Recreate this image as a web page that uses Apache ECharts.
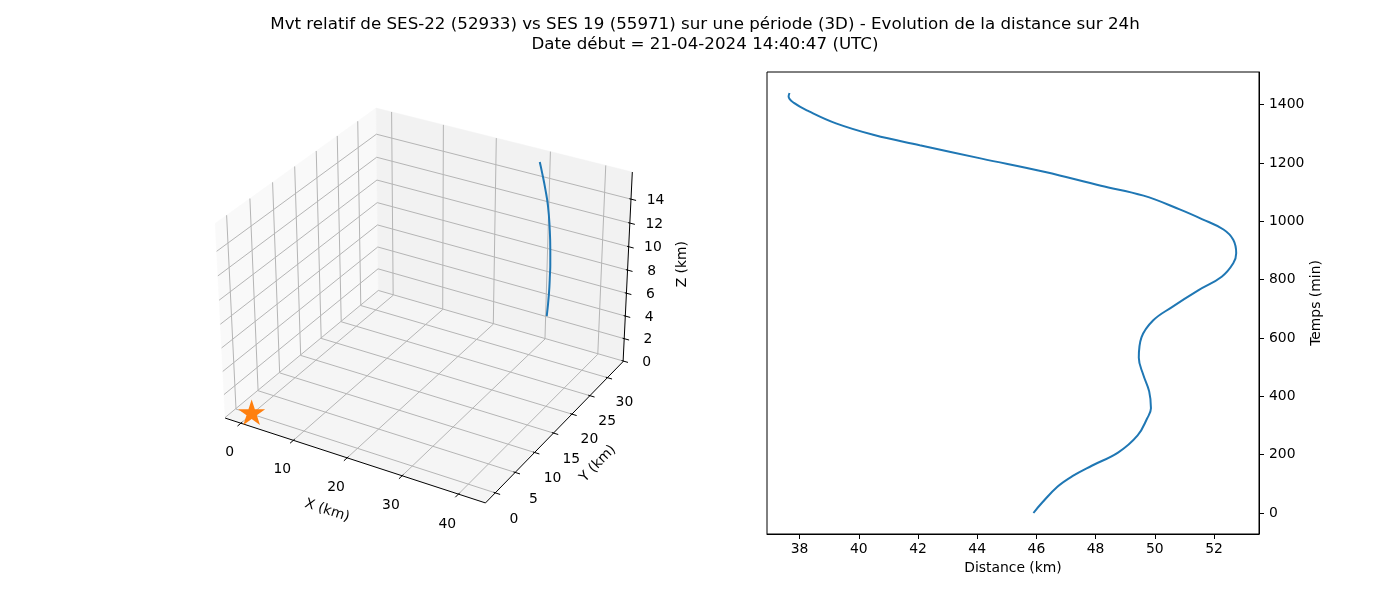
<!DOCTYPE html>
<html><head><meta charset="utf-8">
<script src="https://cdn.jsdelivr.net/npm/echarts@6/dist/echarts.min.js"></script>
<style>html,body{margin:0;padding:0;background:#fff}#c{width:1400px;height:600px}</style>
</head><body><div id="c"></div>
<script>
// ---------- texts ----------
const titleLines = [
  'Mvt relatif de SES-22 (52933) vs SES 19 (55971) sur une période (3D) - Evolution de la distance sur 24h',
  'Date début = 21-04-2024 14:40:47 (UTC)'
];

// ---------- right panel: distance vs time ----------
const tempsMin = [0, 35, 90, 127, 162, 208, 266, 324, 359, 417, 474, 532, 602, 660, 706, 764, 810, 856, 891, 937, 972, 1007, 1041, 1088, 1122, 1169, 1215, 1261, 1296, 1336, 1377, 1406, 1428, 1440];
const distanceKm = [45.90, 46.19, 46.71, 47.23, 47.87, 48.77, 49.42, 49.74, 49.87, 49.81, 49.61, 49.46, 49.55, 49.94, 50.58, 51.48, 52.26, 52.65, 52.75, 52.65, 52.32, 51.61, 50.84, 49.62, 48.18, 46.30, 44.15, 42.06, 40.52, 39.23, 38.32, 37.81, 37.63, 37.66];
const distTicks = [38, 40, 42, 44, 46, 48, 50, 52];
const tempsTicks = [0, 200, 400, 600, 800, 1000, 1200, 1400];

// ---------- left panel: 3D relative motion ----------
const trajX = [31.88, 32.17, 32.25, 32.26, 32.18, 31.92, 31.52, 30.97, 30.30, 29.81];
const trajY = [32.0, 32.0, 32.0, 32.0, 32.0, 32.0, 32.0, 32.0, 32.0, 32.0];
const trajZ = [3.04, 5.10, 6.85, 7.57, 8.86, 10.85, 12.54, 13.85, 15.15, 16.01];
const starXYZ = [0, 0, 0];
const xTicks3d = [0, 10, 20, 30, 40];
const yTicks3d = [0, 5, 10, 15, 20, 25, 30];
const zTicks3d = [0, 2, 4, 6, 8, 10, 12, 14];
const xLim3d = [-3.04, 44.72];
const yLim3d = [-2.41, 34.58];
const zLim3d = [-0.05, 16.24];

// ---------- perspective projection (matplotlib-like view: elev 30, azim -60) ----------
const elev = 30 * Math.PI / 180, azim = -60 * Math.PI / 180, camDist = 10;
const asp = [1.25497, 1.25497, 0.94123];   // fitted box aspect
const pv = [Math.cos(elev) * Math.cos(azim), Math.cos(elev) * Math.sin(azim), Math.sin(elev)];
const eye = asp.map((a, i) => a / 2 + camDist * pv[i]);
const cross = (a, b) => [a[1]*b[2]-a[2]*b[1], a[2]*b[0]-a[0]*b[2], a[0]*b[1]-a[1]*b[0]];
const dot = (a, b) => a[0]*b[0] + a[1]*b[1] + a[2]*b[2];
const norm = a => { const l = Math.hypot(a[0], a[1], a[2]); return a.map(v => v / l); };
const Wv = norm(pv);
const Uv = norm(cross([0, 0, 1], Wv));
const Vv = cross(Wv, Uv);
function proj(x, y, z) {
  const b = [
    (x - xLim3d[0]) / (xLim3d[1] - xLim3d[0]) * asp[0],
    (y - yLim3d[0]) / (yLim3d[1] - yLim3d[0]) * asp[1],
    (z - zLim3d[0]) / (zLim3d[1] - zLim3d[0]) * asp[2]
  ];
  const d = [b[0] - eye[0], b[1] - eye[1], b[2] - eye[2]];
  const w = -dot(Wv, d);
  return [dot(Uv, d) / w, dot(Vv, d) / w];
}
// projected plane spans the whole canvas (hidden cartesian)
const CW = 1400, CH = 600;
const CX = 428, CY = 295.5, SX = 2375, SY = 2355;
const pxMin = (0 - CX) / SX, pxMax = (CW - CX) / SX;
const pyMin = (CY - CH) / SY, pyMax = (CY - 0) / SY;

const FONT = 'DejaVu Sans';
const FS = 13.9;

function renderBox(params, api) {
  const P = (x, y, z) => api.coord(proj(x, y, z));
  const ch = [];
  const [x0, x1] = xLim3d, [y0, y1] = yLim3d, [z0, z1] = zLim3d;
  const poly = (pts, fill) => ch.push({type: 'polygon', shape: {points: pts}, style: {fill: fill, stroke: fill, lineWidth: 0.5}});
  const seg = (a, b, stroke, lw) => ch.push({type: 'line', shape: {x1: a[0], y1: a[1], x2: b[0], y2: b[1]}, style: {stroke: stroke, lineWidth: lw}});
  const txt = (p, s, rot) => ch.push({type: 'text', x: p[0], y: p[1], rotation: rot || 0,
    style: {text: s, align: 'center', verticalAlign: 'middle', fontSize: FS, fontFamily: FONT, fill: '#000'}});
  // panes
  poly([P(x0,y0,z0), P(x0,y1,z0), P(x0,y1,z1), P(x0,y0,z1)], '#f9f9f9');
  poly([P(x0,y1,z0), P(x1,y1,z0), P(x1,y1,z1), P(x0,y1,z1)], '#f2f2f2');
  poly([P(x0,y0,z0), P(x1,y0,z0), P(x1,y1,z0), P(x0,y1,z0)], '#f5f5f5');
  const GC = '#b5b5b5', GW = 1;
  xTicks3d.forEach(v => { seg(P(v,y0,z0), P(v,y1,z0), GC, GW); seg(P(v,y1,z0), P(v,y1,z1), GC, GW); });
  yTicks3d.forEach(v => { seg(P(x0,v,z0), P(x1,v,z0), GC, GW); seg(P(x0,v,z0), P(x0,v,z1), GC, GW); });
  zTicks3d.forEach(v => { seg(P(x0,y0,v), P(x0,y1,v), GC, GW); seg(P(x0,y1,v), P(x1,y1,v), GC, GW); });
  // axis lines
  seg(P(x0,y0,z0), P(x1,y0,z0), '#000', 1);
  seg(P(x1,y0,z0), P(x1,y1,z0), '#000', 1);
  seg(P(x1,y1,z0), P(x1,y1,z1), '#000', 1);
  // ticks + labels
  xTicks3d.forEach(v => { seg(P(v,y0+0.3,z0), P(v,y0-0.75,z0), '#000', 1); txt(P(v, y0-2.66, z0-1.65), String(v)); });
  yTicks3d.forEach(v => { seg(P(x1-0.3,v,z0), P(x1+0.85,v,z0), '#000', 1); txt(P(x1+3.3, v, z0-1.77), String(v)); });
  zTicks3d.forEach(v => { seg(P(x1-0.3,y1,v), P(x1+0.9,y1,v), '#000', 1); txt(P(x1+3.55, y1+1.3, v), String(v)); });
  // axis names
  const ang = (a, b) => Math.atan2(-(b[1]-a[1]), b[0]-a[0]);
  const xm = (x0+x1)/2, ym = (y0+y1)/2, zm = (z0+z1)/2;
  txt(P(xm + 1.2, y0-7.2, z0-1.7), 'X (km)', ang(P(x0,y0,z0), P(x1,y0,z0)));
  txt(P(x1+7.0, ym + 0.6, z0-2.2), 'Y (km)', ang(P(x1,y0,z0), P(x1,y1,z0)));
  txt(P(x1+7.05, y1+4.6, zm), 'Z (km)', Math.PI/2);
  return {type: 'group', children: ch};
}

function starPath() {
  let s = 'path://';
  for (let k = 0; k < 10; k++) {
    const r = k % 2 ? 19.1 : 50;
    const a = (-90 + 36 * k) * Math.PI / 180;
    s += (k ? 'L' : 'M') + (50 + r * Math.cos(a)).toFixed(3) + ' ' + (50 + r * Math.sin(a)).toFixed(3) + ' ';
  }
  return s + 'Z';
}

const chart = echarts.init(document.getElementById('c'), null, {renderer: 'canvas', width: CW, height: CH});
chart.setOption({
  animation: false,
  backgroundColor: '#fff',
  title: {
    text: titleLines.join('\n'), left: 700, top: 10, textAlign: 'center',
    textStyle: {fontSize: 16.7, fontWeight: 'normal', lineHeight: 19.5, fontFamily: FONT, color: '#000', align: 'center'}
  },
  grid: [
    {left: 0, top: 0, width: CW, height: CH, show: false, containLabel: false, outerBoundsMode: 'none'},
    {left: 767, top: 72, width: 492, height: 462, show: true, borderColor: '#000', borderWidth: 1, backgroundColor: 'transparent', outerBoundsMode: 'none'}
  ],
  xAxis: [
    {gridIndex: 0, type: 'value', min: pxMin, max: pxMax, show: false, scale: true},
    {gridIndex: 1, type: 'value', min: 36.9, max: 53.52,
      name: 'Distance (km)', nameLocation: 'middle', nameGap: 27,
      nameTextStyle: {fontSize: FS, color: '#000', fontFamily: FONT},
      axisLine: {show: true, onZero: false, lineStyle: {color: '#000', width: 1}},
      axisTick: {show: true, length: 5, customValues: distTicks, lineStyle: {color: '#000', width: 1}},
      axisLabel: {customValues: distTicks, fontSize: FS, color: '#000', margin: 8, fontFamily: FONT, formatter: v => String(v)},
      splitLine: {show: false}}
  ],
  yAxis: [
    {gridIndex: 0, type: 'value', min: pyMin, max: pyMax, show: false, scale: true},
    {gridIndex: 1, type: 'value', position: 'right', min: -72, max: 1512,
      name: 'Temps (min)', nameLocation: 'middle', nameGap: 50, nameRotate: 90,
      nameTextStyle: {fontSize: FS, color: '#000', fontFamily: FONT},
      axisLine: {show: true, onZero: false, lineStyle: {color: '#000', width: 1}},
      axisTick: {show: true, length: 5, customValues: tempsTicks, lineStyle: {color: '#000', width: 1}},
      axisLabel: {customValues: tempsTicks, fontSize: FS, color: '#000', margin: 10, fontFamily: FONT, formatter: v => String(v)},
      splitLine: {show: false}}
  ],
  series: [
    {type: 'custom', xAxisIndex: 0, yAxisIndex: 0, data: [[0, 0]], renderItem: renderBox, clip: false, silent: true, z: 1},
    {type: 'line', xAxisIndex: 0, yAxisIndex: 0, z: 3, silent: true,
      data: trajX.map((x, i) => proj(x, trajY[i], trajZ[i])),
      showSymbol: false, smooth: true, lineStyle: {color: '#1f77b4', width: 2}},
    {type: 'scatter', xAxisIndex: 0, yAxisIndex: 0, z: 4, silent: true,
      data: [proj(starXYZ[0], starXYZ[1], starXYZ[2])],
      symbol: starPath(), symbolSize: [27, 25.7], symbolOffset: [0, -1.3],
      itemStyle: {color: '#ff7f0e', opacity: 1}},
    {type: 'line', xAxisIndex: 1, yAxisIndex: 1, z: 3, silent: true,
      data: distanceKm.map((d, i) => [d, tempsMin[i]]),
      showSymbol: false, smooth: 0.4,
      lineStyle: {color: '#1f77b4', width: 2}}
  ]
});
</script></body></html>
